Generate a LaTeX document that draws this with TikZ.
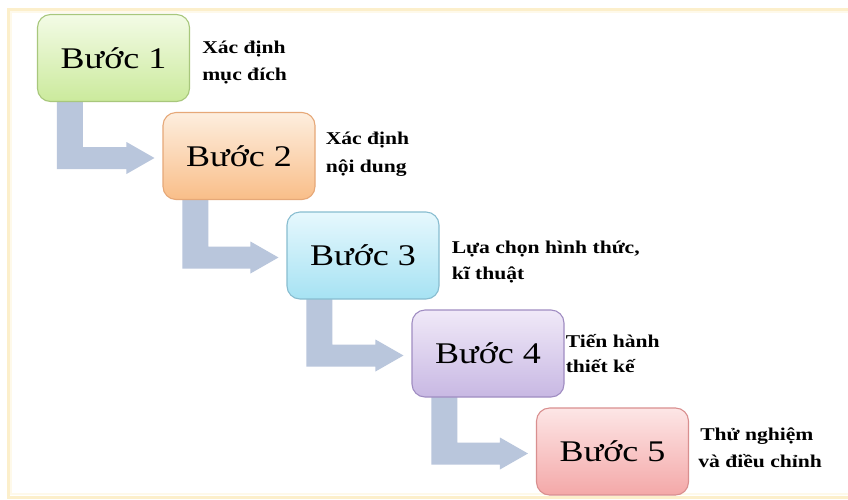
\documentclass[tikz,border=0pt]{standalone}
\usepackage{fontspec}
\setmainfont{Liberation Serif}
\usetikzlibrary{calc,backgrounds}
\newcommand{\hwide}[1]{\scalebox{1.2}[1]{#1}}
\definecolor{arrowc}{HTML}{B9C6DC}
\definecolor{framec}{HTML}{FCEFCB}
\definecolor{gtop}{HTML}{F3FBE6}\definecolor{gbot}{HTML}{CBEA9C}\definecolor{gdraw}{HTML}{A8C77C}
\definecolor{otop}{HTML}{FDEEDF}\definecolor{obot}{HTML}{F9BE88}\definecolor{odraw}{HTML}{E6A878}
\definecolor{ctop}{HTML}{E6F8FD}\definecolor{cbot}{HTML}{A6E2F3}\definecolor{cdraw}{HTML}{88BDD0}
\definecolor{ptop}{HTML}{F0E9F8}\definecolor{pbot}{HTML}{C8B8E3}\definecolor{pdraw}{HTML}{A08DC2}
\definecolor{rtop}{HTML}{FDE6E6}\definecolor{rbot}{HTML}{F4A8A8}\definecolor{rdraw}{HTML}{D98F8F}
\tikzset{
  stepbox/.style={draw, line width=1.1pt, rounded corners=13pt, minimum width=152pt,
    minimum height=87pt, inner sep=0pt, shading=axis, shading angle=0,
    font=\fontsize{30}{34}\selectfont},
  desc/.style={anchor=base west, inner sep=0pt, font=\fontsize{18}{22}\selectfont\bfseries},
  stepA/.style={stepbox, top color=gtop, bottom color=gbot, draw=gdraw},
  stepB/.style={stepbox, top color=otop, bottom color=obot, draw=odraw},
  stepC/.style={stepbox, top color=ctop, bottom color=cbot, draw=cdraw},
  stepD/.style={stepbox, top color=ptop, bottom color=pbot, draw=pdraw},
  stepE/.style={stepbox, top color=rtop, bottom color=rbot, draw=rdraw},
}
\newcommand{\lbarrow}[2]{%
  \fill[arrowc] let \p1=(#1.south west), \p2=(#2.west) in
    (\x1+20pt,\y1+2pt) -- (\x1+46pt,\y1+2pt) -- (\x1+46pt,\y2+9pt)
    -- (\x2-36pt,\y2+9pt) -- (\x2-36pt,\y2+14pt) -- (\x2-8pt,\y2-2pt)
    -- (\x2-36pt,\y2-18pt) -- (\x2-36pt,\y2-13pt) -- (\x1+20pt,\y2-13pt) -- cycle;}
\begin{document}
\begin{tikzpicture}[x=1pt,y=-1pt]
\useasboundingbox (0,0) rectangle (848,499);

\node[stepA] (b1) at (113.5,58) {\hwide{Bước 1}};
\node[stepB] (b2) at (239,156) {\hwide{Bước 2}};
\node[stepC] (b3) at (363,255.5) {\hwide{Bước 3}};
\node[stepD] (b4) at (488,353.5) {\hwide{Bước 4}};
\node[stepE] (b5) at (612.5,451.5) {\hwide{Bước 5}};

\begin{scope}[on background layer]
\fill[white] (0,0) rectangle (848,499);
\draw[framec, line width=3pt] (8,9) rectangle (870,497);
\draw[framec!40, line width=2.5pt] (11,12) rectangle (866,494);
\lbarrow{b1}{b2}
\lbarrow{b2}{b3}
\lbarrow{b3}{b4}
\lbarrow{b4}{b5}
\end{scope}

\node[desc] (d1a) at ($(b1.east)+(12,-5)$) {\hwide{Xác định}};
\node[desc] (d1b) at ($(b1.east)+(12,22)$) {\hwide{mục đích}};
\node[desc] (d2a) at ($(b2.east)+(10,-12)$) {\hwide{Xác định}};
\node[desc] (d2b) at ($(b2.east)+(10,16)$) {\hwide{nội dung}};
\node[desc] (d3a) at ($(b3.east)+(12,-2.5)$) {\hwide{Lựa chọn hình thức,}};
\node[desc] (d3b) at ($(b3.east)+(12,23.5)$) {\hwide{kĩ thuật}};
\node[desc] (d4a) at ($(b4.east)+(1,-6.5)$) {\hwide{Tiến hành}};
\node[desc] (d4b) at ($(b4.east)+(1,18.5)$) {\hwide{thiết kế}};
\node[desc] (d5a) at ($(b5.east)+(11,-11.5)$) {\hwide{Thử nghiệm}};
\node[desc] (d5b) at ($(b5.east)+(9,15.5)$) {\hwide{và điều chỉnh}};
\end{tikzpicture}
\end{document}
